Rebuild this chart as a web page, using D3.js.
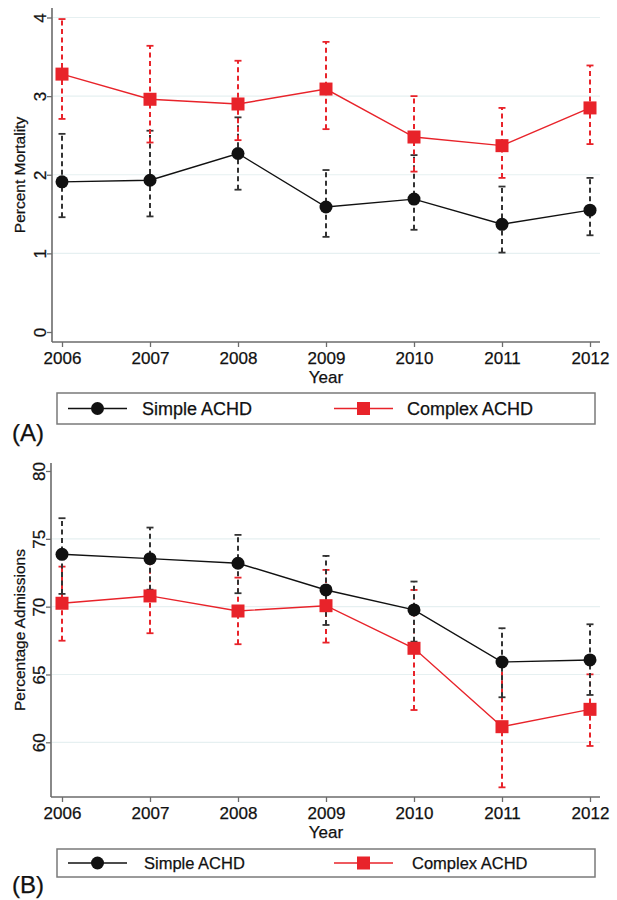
<!DOCTYPE html>
<html>
<head>
<meta charset="utf-8">
<script src="https://cdn.jsdelivr.net/npm/d3@7"></script>
<style>
  body { margin: 0; background: #fff; }
  svg { display: block; font-family: "Liberation Sans", Arial, sans-serif; }
  svg text { stroke: #111; stroke-width: 0.25px; }
</style>
</head>
<body>
<svg id="chart" width="617" height="900"></svg>
<script>
const years = [2006, 2007, 2008, 2009, 2010, 2011, 2012]

// (A) percent mortality
const mortSimple = [1.91, 1.93, 2.27, 1.59, 1.69, 1.37, 1.55]
const mortSimpleLo = [1.46, 1.47, 1.81, 1.21, 1.30, 1.01, 1.23]
const mortSimpleHi = [2.52, 2.56, 2.73, 2.06, 2.25, 1.85, 1.96]
const mortComplex = [3.28, 2.96, 2.90, 3.09, 2.48, 2.37, 2.85]
const mortComplexLo = [2.71, 2.41, 2.44, 2.58, 2.04, 1.96, 2.39]
const mortComplexHi = [3.98, 3.64, 3.45, 3.69, 3.00, 2.85, 3.39]
const mortTicks = [0, 1, 2, 3, 4]

// (B) percentage admissions
const admSimple = [73.86, 73.54, 73.20, 71.23, 69.76, 65.92, 66.07]
const admSimpleLo = [70.94, 71.25, 70.99, 68.65, 67.42, 63.32, 63.49]
const admSimpleHi = [76.52, 75.83, 75.29, 73.74, 71.85, 68.41, 68.70]
const admComplex = [70.25, 70.79, 69.68, 70.07, 66.93, 61.15, 62.43]
const admComplexLo = [67.49, 68.04, 67.23, 67.35, 62.38, 56.68, 59.73]
const admComplexHi = [72.95, 73.37, 72.14, 72.71, 71.23, 65.60, 65.01]
const admTicks = [60, 65, 70, 75, 80]

const seriesNames = ['Simple ACHD', 'Complex ACHD']

const RED = '#e8232a'
const BLACK = '#111'
const AXIS = '#6b6b6b'
const GRID = '#e6f0f1'

const svg = d3.select('#chart')

function drawPanel (cfg) {
  const g = svg.append('g')
  const x = d3.scaleLinear().domain([2006, 2012]).range([62, 590])
  const y = d3.scaleLinear().domain(cfg.domain).range(cfg.range)

  // gridlines
  g.selectAll('line.grid')
    .data(cfg.grid)
    .enter().append('line')
      .attr('x1', cfg.axisX + 1).attr('x2', 600)
      .attr('y1', d => y(d)).attr('y2', d => y(d))
      .attr('stroke', GRID).attr('stroke-width', 1.2)

  // axes
  const yAxis = d3.axisLeft(y).tickValues(cfg.ticks).tickSize(5).tickSizeOuter(0).tickFormat(d3.format('d'))
  const yg = g.append('g').attr('transform', `translate(${cfg.axisX},0)`).call(yAxis)
  yg.select('.domain').remove()
  yg.selectAll('.tick line').attr('stroke', AXIS).attr('stroke-width', 1.3)
  yg.selectAll('.tick text')
    .attr('x', null).attr('dy', null)
    .attr('transform', 'translate(-6,0) rotate(-90)')
    .attr('text-anchor', 'middle')
    .attr('font-size', 17).attr('fill', '#111')
    .attr('font-family', '"Liberation Sans", Arial, sans-serif')

  const xAxis = d3.axisBottom(x).tickValues(years).tickSize(5).tickSizeOuter(0).tickFormat(d3.format('d'))
  const xg = g.append('g').attr('transform', `translate(0,${cfg.axisY})`).call(xAxis)
  xg.select('.domain').remove()
  xg.selectAll('.tick line').attr('stroke', AXIS).attr('stroke-width', 1.3)
  xg.selectAll('.tick text')
    .attr('y', 22).attr('dy', null)
    .attr('font-size', 17).attr('fill', '#111')
    .attr('font-family', '"Liberation Sans", Arial, sans-serif')

  g.append('line')
    .attr('x1', cfg.axisX).attr('x2', cfg.axisX)
    .attr('y1', cfg.axisTop).attr('y2', cfg.axisY)
    .attr('stroke', AXIS).attr('stroke-width', 1.6)
  g.append('line')
    .attr('x1', cfg.axisX).attr('x2', 600)
    .attr('y1', cfg.axisY).attr('y2', cfg.axisY)
    .attr('stroke', AXIS).attr('stroke-width', 1.6)

  g.append('text')
    .attr('transform', `translate(25,${(cfg.axisTop + cfg.axisY) / 2}) rotate(-90)`)
    .attr('text-anchor', 'middle')
    .attr('font-size', 15.5).attr('fill', '#111')
    .text(cfg.yTitle)
  g.append('text')
    .attr('x', x(2009)).attr('y', cfg.axisY + 41)
    .attr('text-anchor', 'middle')
    .attr('font-size', 17).attr('fill', '#111')
    .text('Year')

  const series = [
    { vals: cfg.simple, lo: cfg.simpleLo, hi: cfg.simpleHi, color: BLACK, err: '#333', shape: 'circle' },
    { vals: cfg.complex, lo: cfg.complexLo, hi: cfg.complexHi, color: RED, err: RED, shape: 'square' }
  ]
  const order = cfg.complexFirst ? [series[1], series[0]] : series

  // error bars first, lines and markers on top
  order.forEach(s => {
    const eg = g.append('g')
    years.forEach((yr, i) => {
      eg.append('line')
        .attr('x1', x(yr)).attr('x2', x(yr))
        .attr('y1', y(s.lo[i])).attr('y2', y(s.hi[i]))
        .attr('stroke', s.err).attr('stroke-width', 2)
        .attr('stroke-dasharray', '5,3.5')
      ;[s.lo[i], s.hi[i]].forEach(v => {
        eg.append('line')
          .attr('x1', x(yr) - 3.5).attr('x2', x(yr) + 3.5)
          .attr('y1', y(v)).attr('y2', y(v))
          .attr('stroke', s.err).attr('stroke-width', 1.8)
      })
    })
  })

  order.forEach(s => {
    const line = d3.line().x((d, i) => x(years[i])).y(d => y(d))
    g.append('path')
      .datum(s.vals)
      .attr('d', line)
      .attr('fill', 'none')
      .attr('stroke', s.color).attr('stroke-width', 1.4)
    if (s.shape === 'circle') {
      g.selectAll(null).data(s.vals).enter().append('circle')
        .attr('cx', (d, i) => x(years[i])).attr('cy', d => y(d))
        .attr('r', 6.5).attr('fill', s.color)
    } else {
      g.selectAll(null).data(s.vals).enter().append('rect')
        .attr('x', (d, i) => x(years[i]) - 6.5).attr('y', d => y(d) - 6.5)
        .attr('width', 13).attr('height', 13).attr('fill', s.color)
    }
  })

  // legend
  const lg = g.append('g')
  lg.append('rect')
    .attr('x', 57).attr('y', cfg.legendY)
    .attr('width', 538).attr('height', cfg.legendH)
    .attr('fill', 'none').attr('stroke', '#7a7a7a').attr('stroke-width', 1.5)
  const ly = cfg.legendY + cfg.legendH / 2
  const items = [
    { name: seriesNames[0], x0: 68, x1: 127, color: BLACK, shape: 'circle', tx: cfg.legendTx[0] },
    { name: seriesNames[1], x0: 334, x1: 393, color: RED, shape: 'square', tx: cfg.legendTx[1] }
  ]
  items.forEach(it => {
    lg.append('line')
      .attr('x1', it.x0).attr('x2', it.x1).attr('y1', ly).attr('y2', ly)
      .attr('stroke', it.color).attr('stroke-width', 1.4)
    const mx = (it.x0 + it.x1) / 2
    if (it.shape === 'circle') {
      lg.append('circle').attr('cx', mx).attr('cy', ly).attr('r', 6.5).attr('fill', it.color)
    } else {
      lg.append('rect').attr('x', mx - 6.5).attr('y', ly - 6.5).attr('width', 13).attr('height', 13).attr('fill', it.color)
    }
    lg.append('text')
      .attr('x', it.tx).attr('y', ly + cfg.legendFont * 0.36)
      .attr('font-size', cfg.legendFont).attr('fill', '#111')
      .text(it.name)
  })

  g.append('text')
    .attr('x', 12).attr('y', cfg.labelY)
    .attr('font-size', 24).attr('fill', '#111').attr('stroke', 'none')
    .text(cfg.label)
}

drawPanel({
  domain: [0, 4], range: [332, 17.5],
  ticks: mortTicks, grid: [1, 2, 3, 4],
  axisX: 52, axisY: 342, axisTop: 8,
  yTitle: 'Percent Mortality',
  simple: mortSimple, simpleLo: mortSimpleLo, simpleHi: mortSimpleHi,
  complex: mortComplex, complexLo: mortComplexLo, complexHi: mortComplexHi,
  complexFirst: false,
  legendY: 393, legendH: 31, legendFont: 18, legendTx: [142, 407],
  label: '(A)', labelY: 441
})

drawPanel({
  domain: [60, 80], range: [742.3, 471],
  ticks: admTicks, grid: [60, 65, 70, 75],
  axisX: 51, axisY: 797, axisTop: 463,
  yTitle: 'Percentage Admissions',
  simple: admSimple, simpleLo: admSimpleLo, simpleHi: admSimpleHi,
  complex: admComplex, complexLo: admComplexLo, complexHi: admComplexHi,
  complexFirst: true,
  legendY: 849, legendH: 28, legendFont: 16.5, legendTx: [144, 412],
  label: '(B)', labelY: 893
})
</script>
</body>
</html>
